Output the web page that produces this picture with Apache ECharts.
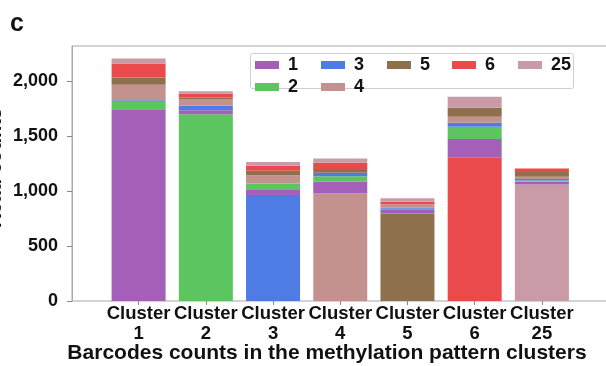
<!DOCTYPE html>
<html>
<head>
<meta charset="utf-8">
<script src="https://cdn.jsdelivr.net/npm/echarts@6/dist/echarts.min.js"></script>
<style>
  html, body { margin: 0; padding: 0; background: #fff; }
  #chart { width: 606px; height: 366px; }
</style>
</head>
<body>
<div id="chart"></div>
<script>
// Methylation pattern clusters and the barcode read counts assigned to each pattern
const categories = ['Cluster\n1', 'Cluster\n2', 'Cluster\n3', 'Cluster\n4', 'Cluster\n5', 'Cluster\n6', 'Cluster\n25'];
const patternNames = ['1', '2', '3', '4', '5', '6', '25'];

// Read counts of each pattern inside every cluster (one value per cluster)
const counts1  = [1745,   36,   45,  106,  30,  170,   24];
const counts2  = [  67, 1700,   61,   51,  12,  112,   12];
const counts3  = [  15,   40,  964,   31,  12,   36,   12];
const counts4  = [ 140,   57,   75,  979,  30,   55,   21];
const counts5  = [  66,   18,   40,   33, 797,   82,   43];
const counts6  = [ 127,   37,   45,   58,  22, 1303,   33];
const counts25 = [  46,   21,   34,   39,  31,  100, 1061];

const yTicks = [0, 500, 1000, 1500, 2000];

const patternColors = ['#A45FB9', '#5CC55F', '#4F7CE4', '#C3928E', '#8F704C', '#EB4A4D', '#C89BA6'];
const countsByPattern = [counts1, counts2, counts3, counts4, counts5, counts6, counts25];

const FONT = 'Liberation Sans, Arial, Helvetica, sans-serif';

// Each cluster's own pattern sits at the bottom of its bar,
// the remaining patterns are stacked above it in legend order.
const series = [];
patternNames.forEach((name, p) => {
  series.push({
    name: name,
    type: 'bar',
    stack: 'reads',
    barWidth: 54,
    itemStyle: { color: patternColors[p] },
    data: countsByPattern[p].map((v, c) => (c === p ? v : 0))
  });
});
patternNames.forEach((name, p) => {
  series.push({
    name: name,
    type: 'bar',
    stack: 'reads',
    barWidth: 54,
    itemStyle: { color: patternColors[p] },
    data: countsByPattern[p].map((v, c) => (c === p ? 0 : v))
  });
});

const legendColumns = [['1', '2'], ['3', '4'], ['5'], ['6'], ['25']];
const legendLefts = [255, 321, 387, 452, 518];
const legends = legendColumns.map((cols, i) => ({
  data: cols,
  orient: 'vertical',
  left: legendLefts[i],
  top: 56,
  padding: 0,
  itemWidth: 24,
  itemHeight: 8,
  itemGap: 4,
  icon: 'rect',
  textStyle: {
    fontFamily: FONT, fontSize: 18, fontWeight: 'bold', color: '#111',
    lineHeight: 12, padding: [0, 0, 0, 4]
  }
}));

const chart = echarts.init(document.getElementById('chart'), null, { renderer: 'canvas' });
chart.setOption({
  animation: false,
  backgroundColor: '#fff',
  grid: [
    { left: 105, right: 30.5, top: 46, bottom: 65, outerBoundsMode: 'none', containLabel: false },
    { left: 72, right: -10, top: 46, bottom: 65, outerBoundsMode: 'none', containLabel: false,
      show: true, borderColor: '#a8a8a8', borderWidth: 1, z: 0 }
  ],
  legend: legends,
  xAxis: [
    {
      type: 'category',
      gridIndex: 0,
      data: categories,
      axisLine: { show: false },
      axisTick: { show: true, alignWithLabel: true, length: 4, lineStyle: { color: '#888' } },
      axisLabel: {
        fontFamily: FONT, fontSize: 18.5, fontWeight: 'bold', color: '#111',
        lineHeight: 20, margin: 3, interval: 0, hideOverlap: false
      }
    },
    { type: 'value', gridIndex: 1, show: false }
  ],
  yAxis: [
    {
      type: 'value',
      gridIndex: 0,
      min: 0,
      max: 2320,
      interval: 500,
      offset: 33,
      axisLine: { show: true, lineStyle: { color: '#a8a8a8' } },
      axisTick: { show: true, length: 5, lineStyle: { color: '#888' }, customValues: yTicks },
      splitLine: { show: false },
      axisLabel: {
        fontFamily: FONT, fontSize: 18, fontWeight: 'bold', color: '#111', margin: 14,
        customValues: yTicks,
        formatter: v => v.toLocaleString('en-US')
      }
    },
    { type: 'value', gridIndex: 1, show: false }
  ],
  graphic: [
    {
      type: 'text', left: 10, top: 12,
      style: { text: 'c', font: 'bold 25px ' + FONT, fill: '#111' }
    },
    {
      // vertical value-axis title, running along the left edge
      type: 'text', x: 5, y: 168, rotation: Math.PI / 2,
      style: {
        text: 'Read counts', font: 'bold 20px ' + FONT, fill: '#111',
        align: 'center', verticalAlign: 'bottom'
      }
    },
    {
      type: 'rect', z: -1,
      shape: { x: 250.5, y: 53.5, width: 323, height: 35, r: 2 },
      style: { fill: '#fff', stroke: '#cfcfcf', lineWidth: 1 }
    },
    {
      type: 'text', x: 327, y: 353,
      style: {
        text: 'Barcodes counts in the methylation pattern clusters',
        font: 'bold 21px ' + FONT, fill: '#111', align: 'center', verticalAlign: 'middle'
      }
    }
  ],
  series: series
});
</script>
</body>
</html>
